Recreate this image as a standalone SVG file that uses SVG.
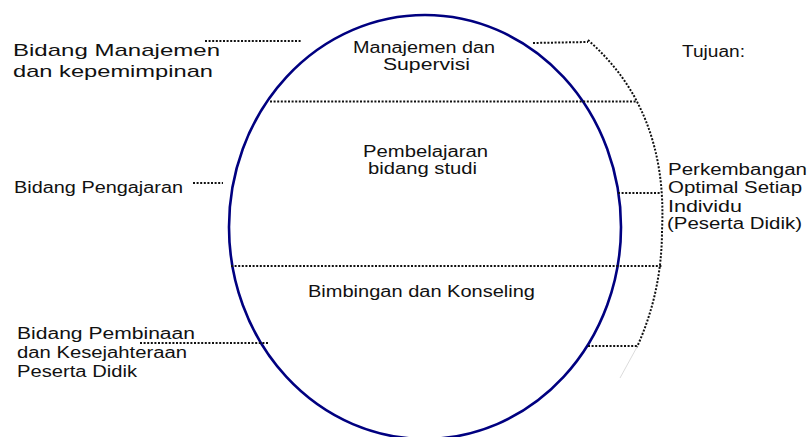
<svg xmlns="http://www.w3.org/2000/svg" width="808" height="437" viewBox="0 0 808 437">
<style>
text{font-family:"Liberation Sans",Arial,sans-serif;font-size:16px;fill:#111}
.big{font-size:17px}
.dot{fill:none;stroke:#111;stroke-width:2;stroke-dasharray:2 1.6}
.oval{fill:none;stroke:#000080;stroke-width:2.6}
</style>
<rect width="808" height="437" fill="#fff"/>
<g id="circle-node">
<ellipse class="oval" cx="425" cy="227" rx="196" ry="212"/>
</g>
<g id="connectors">
<line class="dot" x1="205" y1="41" x2="302" y2="41"/>
<line class="dot" x1="533" y1="43" x2="588" y2="42"/>
<path class="dot" d="M588,40 Q668,110 662,230 Q662,292 637,347"/>
<path d="M637,347 L620,378" fill="none" stroke="#ccc" stroke-width="0.7"/>
<line class="dot" x1="270" y1="101.5" x2="636" y2="101.5"/>
<line class="dot" x1="193" y1="183" x2="223" y2="183"/>
<line class="dot" x1="618" y1="193" x2="660" y2="193"/>
<line class="dot" x1="231" y1="266" x2="662" y2="266"/>
<line class="dot" x1="140" y1="343" x2="268" y2="343"/>
<line class="dot" x1="588" y1="346" x2="637" y2="346"/>
</g>
<g id="label-manajemen">
<text class="big" x="13" y="56" textLength="207" lengthAdjust="spacingAndGlyphs">Bidang Manajemen</text>
<text class="big" x="13" y="77" textLength="200" lengthAdjust="spacingAndGlyphs">dan kepemimpinan</text>
</g>
<g id="section-manajemen">
<text x="353" y="53" textLength="142" lengthAdjust="spacingAndGlyphs">Manajemen dan</text>
<text x="383" y="70" textLength="87" lengthAdjust="spacingAndGlyphs">Supervisi</text>
</g>
<g id="label-tujuan">
<text x="682" y="57" textLength="63" lengthAdjust="spacingAndGlyphs">Tujuan:</text>
</g>
<g id="label-pengajaran">
<text x="14" y="193" textLength="169" lengthAdjust="spacingAndGlyphs">Bidang Pengajaran</text>
</g>
<g id="section-pembelajaran">
<text x="363" y="157" textLength="125" lengthAdjust="spacingAndGlyphs">Pembelajaran</text>
<text x="368" y="174" textLength="109" lengthAdjust="spacingAndGlyphs">bidang studi</text>
</g>
<g id="label-tujuan-detail">
<text x="668" y="175" textLength="139" lengthAdjust="spacingAndGlyphs">Perkembangan</text>
<text x="668" y="193" textLength="134" lengthAdjust="spacingAndGlyphs">Optimal Setiap</text>
<text x="668" y="212" textLength="74" lengthAdjust="spacingAndGlyphs">Individu</text>
<text x="667" y="229" textLength="135" lengthAdjust="spacingAndGlyphs">(Peserta Didik)</text>
</g>
<g id="section-bimbingan">
<text x="308" y="297" textLength="227" lengthAdjust="spacingAndGlyphs">Bimbingan dan Konseling</text>
</g>
<g id="label-pembinaan">
<text x="17" y="339" textLength="178" lengthAdjust="spacingAndGlyphs">Bidang Pembinaan</text>
<text x="17" y="358" textLength="170" lengthAdjust="spacingAndGlyphs">dan Kesejahteraan</text>
<text x="17" y="377" textLength="120" lengthAdjust="spacingAndGlyphs">Peserta Didik</text>
</g>
</svg>
